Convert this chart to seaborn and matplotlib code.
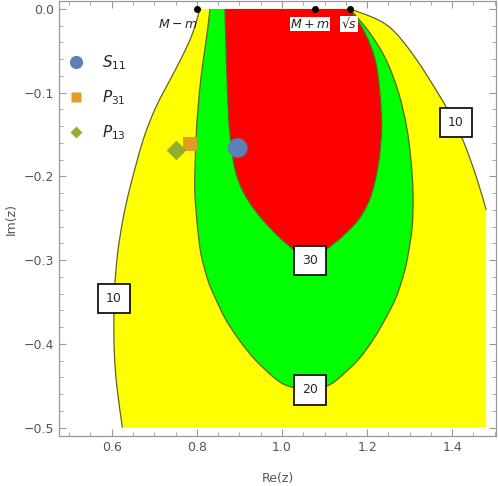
import matplotlib
matplotlib.use("Agg")
import matplotlib.pyplot as plt
from matplotlib.lines import Line2D
from matplotlib.path import Path
from matplotlib.patches import PathPatch
from matplotlib.ticker import MultipleLocator
import seaborn as sns
import numpy as np
import pandas as pd

# ==========================================
# Data
# ==========================================
# plot region of the filled contour plot
re_max = 1.48
im_min = -0.5

# level 10 contour (yellow region), left and right branches, top -> bottom
c10_left_re = [0.807, 0.800, 0.790, 0.773, 0.746, 0.704, 0.674, 0.643, 0.626, 0.614, 0.607, 0.605, 0.606, 0.612, 0.625]
c10_left_im = [0.0, -0.013, -0.029, -0.049, -0.076, -0.117, -0.156, -0.213, -0.252, -0.291, -0.332, -0.371, -0.411, -0.451, -0.500]
c10_right_re = [1.160, 1.226, 1.268, 1.317, 1.366, 1.400, 1.428, 1.457, 1.480]
c10_right_im = [0.0, -0.013, -0.029, -0.061, -0.100, -0.130, -0.160, -0.201, -0.240]

# level 20 contour (green region), closed U: left top -> bottom -> right top
c20_re = [0.831, 0.822, 0.811, 0.803, 0.798, 0.795, 0.800, 0.809, 0.826, 0.845, 0.868, 0.899, 0.937, 0.988, 1.019, 1.061,
          1.101, 1.129, 1.179, 1.214, 1.242, 1.266, 1.282, 1.294, 1.306, 1.308, 1.303, 1.293, 1.274, 1.245, 1.207, 1.160]
c20_im = [0.0, -0.037, -0.076, -0.117, -0.156, -0.213, -0.252, -0.291, -0.324, -0.347, -0.371, -0.395, -0.419, -0.443, -0.451, -0.455,
          -0.451, -0.443, -0.419, -0.395, -0.371, -0.347, -0.324, -0.300, -0.260, -0.220, -0.180, -0.141, -0.100, -0.061, -0.029, 0.0]

# level 30 contour (red region)
c30_re = [0.866, 0.868, 0.871, 0.875, 0.882, 0.890, 0.904, 0.925, 0.955, 0.993, 1.030, 1.066,
          1.101, 1.141, 1.179, 1.202, 1.215, 1.228, 1.234, 1.230, 1.219, 1.195, 1.160]
c30_im = [0.0, -0.037, -0.085, -0.133, -0.168, -0.192, -0.213, -0.232, -0.252, -0.272, -0.288, -0.297,
          -0.288, -0.272, -0.252, -0.232, -0.213, -0.180, -0.141, -0.100, -0.061, -0.029, 0.0]

# contour labels
label_text = ["10", "10", "30", "20"]
label_re = [1.408, 0.605, 1.066, 1.066]
label_im = [-0.136, -0.346, -0.300, -0.455]

# poles
pole_names = ["S11", "P31", "P13"]
pole_re = [0.896, 0.784, 0.752]
pole_im = [-0.166, -0.161, -0.169]
pole_colors = {"S11": "#5e81b5", "P31": "#e19c24", "P13": "#8fb032"}
pole_markers = {"S11": "o", "P31": "s", "P13": "D"}
pole_sizes = {"S11": 200, "P31": 105, "P13": 100}
pole_tex = {"S11": r"$S_{11}$", "P31": r"$P_{31}$", "P13": r"$P_{13}$"}

# thresholds on the real axis
thr_names = [r"$M-m$", r"$M+m$", r"√$s$"]
thr_re = [0.800, 1.078, 1.160]
thr_text_re = [0.802, 1.066, 1.157]


# smooth curve through the read points (Catmull-Rom drawn as cubic Bezier)
def smooth_segments(xs, ys):
    p = np.column_stack([xs, ys])
    verts, codes = [], []
    n = len(p)
    for i in range(n - 1):
        p0 = p[max(i - 1, 0)]
        p1 = p[i]
        p2 = p[i + 1]
        p3 = p[min(i + 2, n - 1)]
        verts += [p1 + (p2 - p0) / 6, p2 - (p3 - p1) / 6, p2]
        codes += [Path.CURVE4] * 3
    return verts, codes


def curve_path(xs, ys, close=False):
    verts = [(xs[0], ys[0])]
    codes = [Path.MOVETO]
    v, c = smooth_segments(xs, ys)
    verts += v
    codes += c
    if close:
        verts.append((xs[0], ys[0]))
        codes.append(Path.CLOSEPOLY)
    return Path(verts, codes)


# ==========================================
# Figure
# ==========================================
sns.set_style("ticks")
plt.rcParams["font.family"] = ["DejaVu Sans"]

fig = plt.figure(figsize=(4.98, 4.86), dpi=100)
ax = fig.add_axes([59 / 498, 1 - 436 / 486, (496 - 59) / 498, 435 / 486])

edge = "#62622c"

# yellow (level 10) region: left branch, bottom/right clip, right branch
v1, k1 = smooth_segments(c10_left_re, c10_left_im)
v2, k2 = smooth_segments(c10_right_re[::-1], c10_right_im[::-1])
verts = [(c10_left_re[0], c10_left_im[0])] + v1 + [(re_max, im_min), (c10_right_re[-1], c10_right_im[-1])] + v2 + [(0, 0)]
codes = [Path.MOVETO] + k1 + [Path.LINETO, Path.LINETO] + k2 + [Path.CLOSEPOLY]
ax.add_patch(PathPatch(Path(verts, codes), fc="#ffff00", ec="none", zorder=1))
ax.add_patch(PathPatch(curve_path(c10_left_re, c10_left_im), fc="none", ec=edge, lw=0.9, zorder=2))
ax.add_patch(PathPatch(curve_path(c10_right_re, c10_right_im), fc="none", ec=edge, lw=0.9, zorder=2))

# green (level 20) and red (level 30) regions
ax.add_patch(PathPatch(curve_path(c20_re, c20_im, close=True), fc="#00ff00", ec="none", zorder=3))
ax.add_patch(PathPatch(curve_path(c20_re, c20_im), fc="none", ec=edge, lw=0.9, zorder=4))
ax.add_patch(PathPatch(curve_path(c30_re, c30_im, close=True), fc="#ff0000", ec="none", zorder=5))
ax.add_patch(PathPatch(curve_path(c30_re, c30_im), fc="none", ec=edge, lw=0.9, zorder=6))

# contour labels
for t, x, y in zip(label_text, label_re, label_im):
    ax.text(x, y, t, ha="center", va="center", fontsize=9, zorder=10,
            bbox=dict(boxstyle="square,pad=0.65", fc="white", ec="black", lw=1.2))

# thresholds
ax.scatter(thr_re, [0, 0, 0], s=16, color="black", zorder=12, clip_on=False)
ax.text(thr_text_re[0], -0.018, thr_names[0], ha="right", va="center", fontsize=9, zorder=11)
for name, x in zip(thr_names[1:], thr_text_re[1:]):
    ax.text(x, -0.018, name, ha="center", va="center", fontsize=9, zorder=11,
            bbox=dict(boxstyle="square,pad=0.05", fc="white", ec="none"))

# poles
poles = pd.DataFrame({"name": pole_names, "re": pole_re, "im": pole_im})
sns.scatterplot(data=poles, x="re", y="im", hue="name", style="name", size="name",
                palette=pole_colors, markers=pole_markers, sizes=pole_sizes,
                linewidth=0, legend=False, ax=ax, zorder=9)

handles = [
    Line2D([], [], ls="", marker="o", ms=9.5, mfc=pole_colors["S11"], mec="none"),
    Line2D([], [], ls="", marker="s", ms=6.5, mfc=pole_colors["P31"], mec="none"),
    Line2D([], [], ls="", marker="D", ms=6.5, mfc=pole_colors["P13"], mec="none"),
]
ax.legend(handles, [pole_tex[n] for n in pole_names], loc="upper left",
          bbox_to_anchor=(-0.018, 0.911), frameon=False, fontsize=11,
          labelspacing=1.05, handletextpad=0.95, handlelength=1.5)

# axes styling (Mathematica like frame)
ax.set_xlim(0.476, 1.503)
ax.set_ylim(-0.510, 0.0095)
ax.xaxis.set_major_locator(MultipleLocator(0.2))
ax.xaxis.set_minor_locator(MultipleLocator(0.05))
ax.yaxis.set_major_locator(MultipleLocator(0.1))
ax.yaxis.set_minor_locator(MultipleLocator(0.02))
ax.set_xticks([0.6, 0.8, 1.0, 1.2, 1.4])
ax.xaxis.set_major_formatter(plt.FuncFormatter(lambda v, p: f"{v:.1f}"))
ax.yaxis.set_major_formatter(plt.FuncFormatter(lambda v, p: f"{v:.1f}".replace("-0.0", "0.0").replace("-", "\u2212")))
ax.tick_params(which="both", direction="in", top=True, right=True, colors="#999999",
               labelcolor="#555555", labelsize=9)
ax.tick_params(which="major", length=5, width=0.8)
ax.tick_params(which="minor", length=3, width=0.6)
for s in ax.spines.values():
    s.set_color("#999999")
    s.set_linewidth(0.9)
ax.set_xlabel("Re(z)", color="#555555", fontsize=9, labelpad=13)
ax.set_ylabel("Im(z)", color="#555555", fontsize=9, labelpad=4)

fig.savefig("out.png", dpi=100)
